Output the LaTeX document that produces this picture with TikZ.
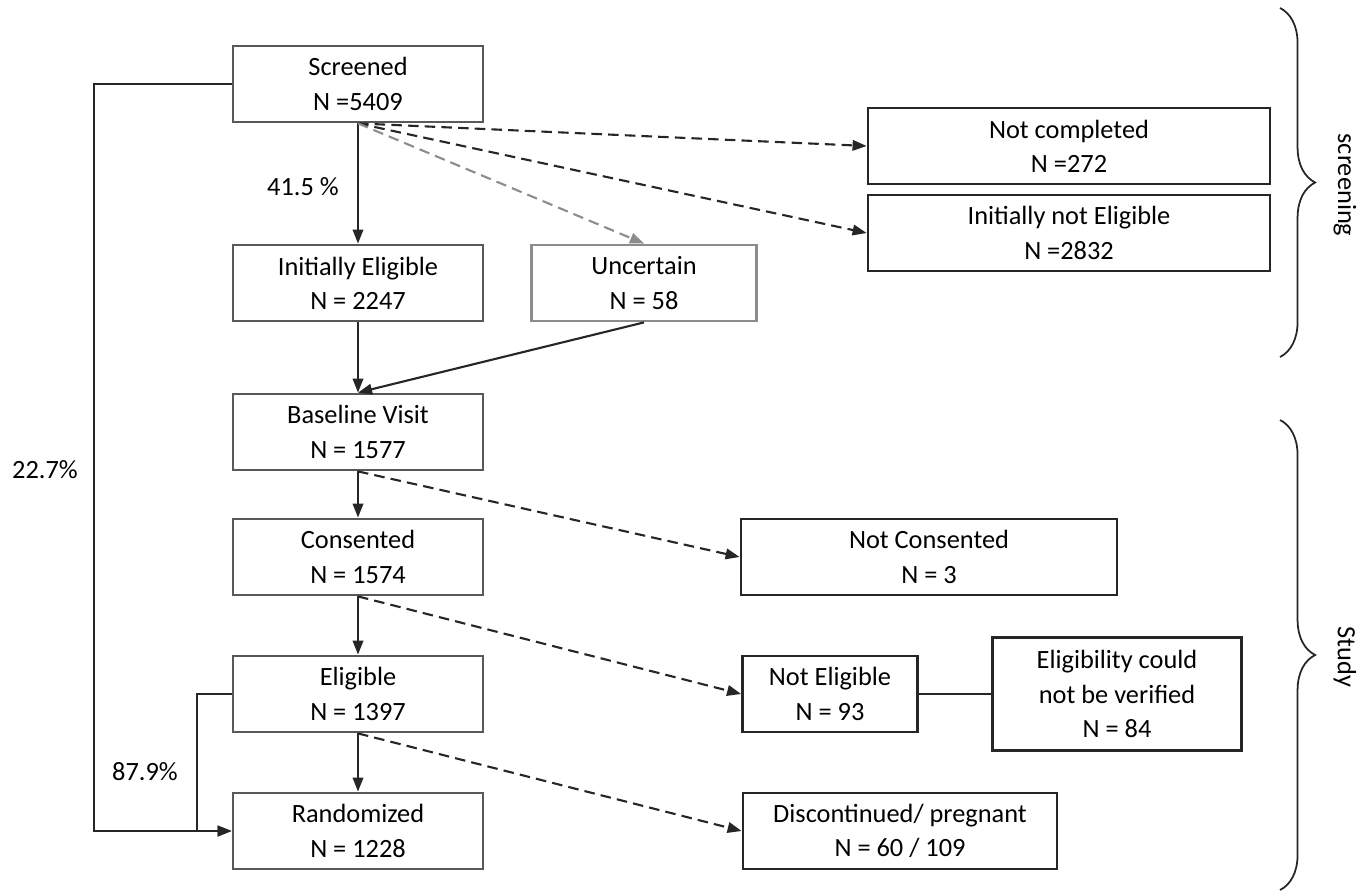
\documentclass[tikz,border=0pt]{standalone}
\usepackage{fontspec}
\setmainfont{Carlito}
\usetikzlibrary{arrows.meta,decorations.pathreplacing}

\tikzset{
  flowbox/.style={draw=black!65, line width=1.6pt, minimum height=1.52cm, align=center,
    inner sep=2pt, font=\fontsize{15}{19.5}\selectfont},
  mainbox/.style={flowbox, minimum width=5cm},
  outbox/.style={flowbox, draw=black!85},
  greybox/.style={flowbox, draw=black!45},
  flowline/.style={draw=black!85, line width=1.2pt, -{Triangle[length=8pt,width=6pt]}},
  dashline/.style={flowline, dash pattern=on 6pt off 3.5pt},
  labeltext/.style={font=\fontsize{15}{19.5}\selectfont},
  bracket/.style={draw=black!85, line width=1pt, decorate,
    decoration={brace, amplitude=20pt}}
}

\begin{document}
\begin{tikzpicture}[x=0.02cm, y=-0.02cm]
  \useasboundingbox (0,0) rectangle (1369,892);

  % main column
  \node[mainbox] (screened) at (358,84) {Screened\\N =5409};
  \node[mainbox] (initelig) at (358,283) {Initially Eligible\\N = 2247};
  \node[greybox, minimum width=4.5cm] (uncertain) at (644,283) {Uncertain\\N = 58};
  \node[mainbox] (baseline) at (358,432) {Baseline Visit\\N = 1577};
  \node[mainbox] (consented) at (358,557) {Consented\\N = 1574};
  \node[mainbox] (eligible) at (358,694) {Eligible\\N = 1397};
  \node[mainbox] (randomized) at (358,831) {Randomized\\N = 1228};

  % side boxes
  \node[outbox, minimum width=8.04cm] (notcompl) at (1069,146) {Not completed\\N =272};
  \node[outbox, minimum width=8.04cm] (notinit) at (1069,233) {Initially not Eligible\\N =2832};
  \node[outbox, minimum width=7.52cm] (notcons) at (929,557) {Not Consented\\N = 3};
  \node[outbox, minimum width=3.5cm] (notelig) at (830,694) {Not Eligible\\N = 93};
  \node[outbox, minimum width=4.98cm, minimum height=2.26cm] (notverif) at (1117,694)
    {Eligibility could\\not be verified\\N = 84};
  \node[outbox, minimum width=6.28cm] (discont) at (900,831) {Discontinued/ pregnant\\N = 60 / 109};

  % connectors
  \draw[flowline] (screened) -- (initelig);
  \draw[dashline] (screened.south) -- (notcompl.west);
  \draw[dashline] (screened.south) -- (notinit.west);
  \draw[dashline, draw=black!45] (screened.south) -- (uncertain.north);
  \draw[flowline] (initelig) -- (baseline);
  \draw[flowline] (uncertain.south) -- (baseline.north);
  \draw[flowline] (baseline) -- (consented);
  \draw[dashline] (baseline.south) -- (notcons.west);
  \draw[flowline] (consented) -- (eligible);
  \draw[dashline] (consented.south) -- (notelig.west);
  \draw[flowline] (eligible) -- (randomized);
  \draw[dashline] (eligible.south) -- (discont.west);
  \draw[flowline, -] (notelig.east) -- (notverif.west);
  \draw[flowline] (screened.west) -- ++(-138,0) |- (randomized.west);
  \draw[flowline] (eligible.west) -- ++(-35,0) |- (randomized.west);

  % percentages
  \node[labeltext] (pinit) at (303,187) {41.5 \%};
  \node[labeltext] (pall) at (45,470) {22.7\%};
  \node[labeltext] (prand) at (145,772) {87.9\%};

  % braces
  \coordinate (scrtop) at (1280,8);
  \coordinate (scrbot) at (1280,357);
  \coordinate (stutop) at (1280,420);
  \coordinate (stubot) at (1280,890);
  \draw[bracket] (scrtop) -- (scrbot);
  \draw[bracket] (stutop) -- (stubot);
  \node[labeltext, rotate=-90] (scrlabel) at (1345,185) {screening};
  \node[labeltext, rotate=-90] (stulabel) at (1345,657) {Study};
\end{tikzpicture}
\end{document}
